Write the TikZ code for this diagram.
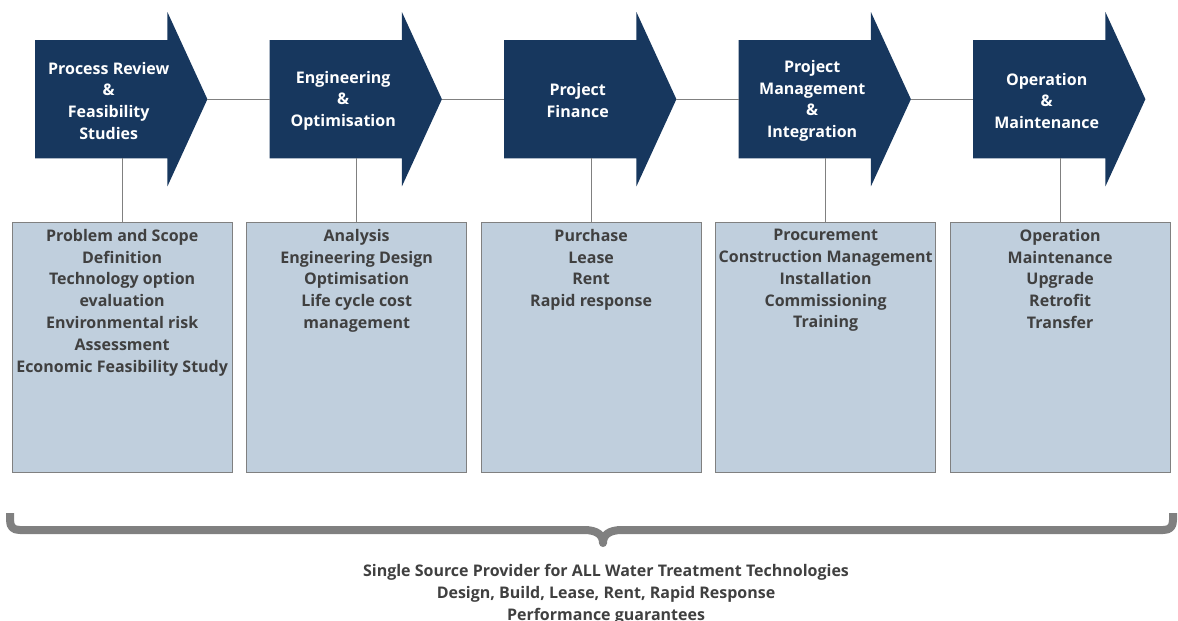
\documentclass[tikz,border=0pt]{standalone}
\usepackage{fontspec}
\setmainfont{Open Sans}
\usetikzlibrary{calc, positioning}
\definecolor{navy}{RGB}{23,55,94}
\definecolor{boxfill}{RGB}{192,207,221}
\definecolor{boxline}{RGB}{128,128,128}
\definecolor{txtgray}{RGB}{64,64,64}

\begin{document}
\begin{tikzpicture}[x = 1pt, y = -1pt,
  body/.style = {minimum width = 132pt, minimum height = 118pt, inner sep = 0pt, anchor = north west},
  headtxt/.style = {text = white, font = \bfseries\fontsize{16}{21.7}\selectfont, align = center, inner sep = 0pt},
  taskbox/.style = {draw = boxline, line width = 1.3pt, fill = boxfill, minimum width = 220pt, minimum height = 250pt, inner sep = 0pt, anchor = north west},
  tasktxt/.style = {text = txtgray, font = \bfseries\fontsize{16}{21.8}\selectfont, align = center, inner sep = 0pt, anchor = north},
  link/.style = {draw = boxline, line width = 1.3pt},
  brace/.style = {draw = boxline, line width = 8pt, line join = round}]
\useasboundingbox (0,0) rectangle (1178,621);

\foreach \i/\x/\head/\tasks in {
1/35/{Process Review\\\&\\Feasibility\\Studies}/{Problem and Scope\\Definition\\Technology option\\evaluation\\Environmental risk\\Assessment\\Economic Feasibility Study},
2/269.5/{Engineering\\\&\\Optimisation}/{Analysis\\Engineering Design\\Optimisation\\Life cycle cost\\management},
3/504/{Project\\Finance}/{Purchase\\Lease\\Rent\\Rapid response},
4/738.5/{Project\\Management\\\&\\Integration}/{Procurement\\Construction Management\\Installation\\Commissioning\\Training},
5/973/{Operation\\\&\\Maintenance}/{Operation\\Maintenance\\Upgrade\\Retrofit\\Transfer}}{
\node[body] (b\i) at (\x,40) {};
\fill[navy] (b\i.south west) -- (b\i.north west) -- (b\i.north east) -- ++(0,-28) -- ($(b\i.east)+(40,0)$) coordinate (tip\i) -- ($(b\i.south east)+(0,28)$) -- (b\i.south east) -- cycle;
\node[headtxt] (h\i) at ($(b\i.center)+(7.5,1.5)$) {\head};
\node[taskbox] (box\i) at (\x-23.5,222) {};
\node[tasktxt] (t\i) at ($(box\i.north)+(0,7)$) {\tasks};
\draw[link] (box\i.north |- b\i.south) -- (box\i.north);
}
\foreach \i/\j in {1/2, 2/3, 3/4, 4/5}{
\draw[link] (tip\i) -- (b\j.west);
}

% brace
\draw[brace] (10,513) -- (10,520) .. controls (10,527) and (13,530) .. (20,530) -- (584,530)
  .. controls (597,530) and (603,535) .. (603,543) .. controls (603,535) and (609,530) .. (622,530)
  -- (1163,530) .. controls (1170,530) and (1173,527) .. (1173,520) -- (1173,513);
\node[tasktxt, anchor = center] (summary) at (606,594) {Single Source Provider for ALL Water Treatment Technologies\\Design, Build, Lease, Rent, Rapid Response\\Performance guarantees};
\end{tikzpicture}
\end{document}
